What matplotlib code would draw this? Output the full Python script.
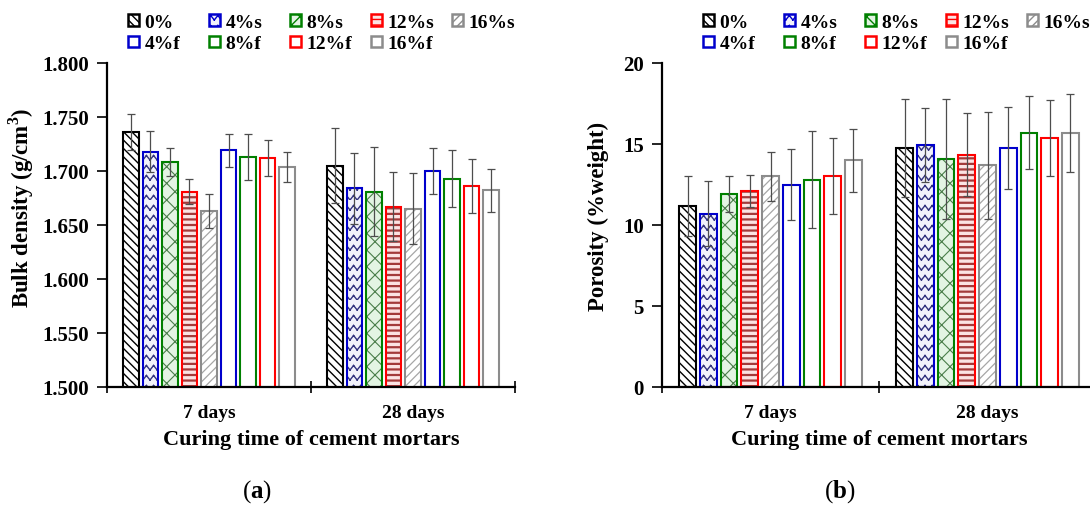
import warnings
import numpy as np
import matplotlib
matplotlib.use('Agg')
import matplotlib.pyplot as plt
from matplotlib import hatch as mhatch
from matplotlib.path import Path
from matplotlib.patches import Patch

warnings.filterwarnings('ignore')

# data
groups = ['7 days', '28 days']
series = ['0%', '4%s', '8%s', '12%s', '16%s', '4%f', '8%f', '12%f', '16%f']

density_7d = [1.736, 1.718, 1.708, 1.681, 1.663, 1.719, 1.713, 1.712, 1.704]
density_28d = [1.705, 1.684, 1.681, 1.667, 1.665, 1.700, 1.693, 1.686, 1.682]
density_err_7d = [0.017, 0.019, 0.013, 0.012, 0.016, 0.015, 0.021, 0.017, 0.014]
density_err_28d = [0.035, 0.033, 0.041, 0.032, 0.033, 0.021, 0.026, 0.025, 0.020]

porosity_7d = [11.2, 10.7, 11.9, 12.1, 13.0, 12.5, 12.8, 13.0, 14.0]
porosity_28d = [14.75, 14.95, 14.1, 14.35, 13.7, 14.75, 15.7, 15.35, 15.7]
porosity_err_7d = [1.85, 2.0, 1.1, 1.0, 1.5, 2.2, 3.0, 2.35, 1.95]
porosity_err_28d = [3.0, 2.3, 3.7, 2.55, 3.3, 2.55, 2.25, 2.35, 2.4]

# styles
outline = ['#000000', '#0000cc', '#008000', '#ff0000', '#8c8c8c',
           '#0000cc', '#008000', '#ff0000', '#8c8c8c']
fills = ['white', '#f2f2fb', '#e3f4e3', '#fbe3e3', 'white',
         'white', 'white', 'white', 'white']
hatch_col = ['#000000', '#33337f', '#4a7d4a', '#a33a3a', '#a6a6a6',
             None, None, None, None]
hatches = ['\\\\\\\\', 'z', 'xx', '---', '////', None, None, None, None]
hatch_lw = [1.0, 1.0, 0.8, 1.6, 0.9, 1.0, 1.0, 1.0, 1.0]


# wavy / zigzag hatch for the 4%s bars (not built in)
# every tooth edge is its own segment so that Agg has no area to fill
class ZigzagHatch(mhatch.HatchPatternBase):
    def __init__(self, hatch, density):
        self.num_rows = int(hatch.count('z') * density * 1.8)
        self.num_teeth = 14
        self.num_vertices = self.num_rows * self.num_teeth * 4

    def set_vertices_and_codes(self, vertices, codes):
        k = 2 * self.num_teeth
        xs = np.linspace(0, 1, k + 1)
        amp = 0.45 / self.num_rows
        idx = 0
        for r in range(self.num_rows):
            y0 = r / self.num_rows
            for j in range(k):
                vertices[idx] = (xs[j], y0 + amp * (j % 2))
                vertices[idx + 1] = (xs[j + 1], y0 + amp * ((j + 1) % 2))
                codes[idx] = Path.MOVETO
                codes[idx + 1] = Path.LINETO
                idx += 2

mhatch._hatch_types.append(ZigzagHatch)

plt.rcParams['font.family'] = 'Liberation Serif'
plt.rcParams['font.weight'] = 'bold'
plt.rcParams['axes.labelweight'] = 'bold'
plt.rcParams['mathtext.fontset'] = 'custom'
plt.rcParams['mathtext.rm'] = 'Liberation Serif'
plt.rcParams['mathtext.bf'] = 'Liberation Serif:bold'
plt.rcParams['hatch.linewidth'] = 1.0

step = 0.0956
width = 0.078

fig = plt.figure(figsize=(10.9, 5.1), dpi=100)
ax1 = fig.add_axes([107 / 1090, 1 - 388 / 510, 408 / 1090, 324 / 510])
ax2 = fig.add_axes([662 / 1090, 1 - 388 / 510, 434 / 1090, 324 / 510])


def draw_panel(ax, means, errs, ylim, yticks, fmt, ylabel, label_xy):
    x = np.arange(len(groups))
    means = np.array(means)
    errs = np.array(errs)
    for i in range(len(series)):
        pos = x + (i - 4) * step
        if hatches[i]:
            with plt.rc_context({'hatch.linewidth': hatch_lw[i]}):
                ax.bar(pos, means[:, i], width, color=fills[i],
                       edgecolor=hatch_col[i], hatch=hatches[i], linewidth=0)
        ax.bar(pos, means[:, i], width, fill=False, edgecolor=outline[i],
               linewidth=1.5)
        ax.errorbar(pos, means[:, i], yerr=errs[:, i], fmt='none',
                    ecolor='#4d4d4d', elinewidth=0.9, capsize=3, capthick=0.9)
    ax.set_xlim(-0.5, 1.5)
    ax.set_ylim(*ylim)
    ax.set_yticks(yticks)
    ax.set_yticklabels([fmt.format(v) for v in yticks], fontsize=15)
    ax.set_xticks(x)
    ax.set_xticklabels(groups, fontsize=14)
    ax.set_xticks([-0.5, 0.5, 1.5], minor=True)
    ax.tick_params(axis='x', which='major', length=0, pad=12)
    ax.tick_params(axis='x', which='minor', direction='inout', length=9,
                   width=1.2)
    ax.tick_params(axis='y', direction='out', length=7, width=1.2, pad=6)
    for s in ['top', 'right']:
        ax.spines[s].set_visible(False)
    for s in ['left', 'bottom']:
        ax.spines[s].set_linewidth(1.6)
    ax.set_xlabel('Curing time of cement mortars', fontsize=16, labelpad=6)
    ax.set_ylabel(ylabel, fontsize=16.5)
    ax.yaxis.set_label_coords(*label_xy)


draw_panel(ax1, [density_7d, density_28d], [density_err_7d, density_err_28d],
           (1.5, 1.8), np.arange(1.5, 1.801, 0.05), '{:.3f}',
           r'Bulk density (g/cm$^\mathbf{3}$)', (-0.175, 0.556))
draw_panel(ax2, [porosity_7d, porosity_28d], [porosity_err_7d, porosity_err_28d],
           (0, 20), [0, 5, 10, 15, 20], '{:.0f}', 'Porosity (%weight)',
           (-0.122, 0.528))

# legend: five columns, s-series on top row, f-series below
columns = [['0%', '4%f'], ['4%s', '8%f'], ['8%s', '12%f'], ['12%s', '16%f'],
           ['16%s']]
for x0 in [128, 703]:
    for c, names in enumerate(columns):
        handles = []
        for name in names:
            i = series.index(name)
            handles.append(Patch(facecolor=fills[i], edgecolor=outline[i],
                                 hatch=hatches[i], linewidth=1.8, label=name))
        fig.legend(handles=handles, loc='upper left',
                   bbox_to_anchor=((x0 + 81 * c) / 1090, 1 - 15 / 510),
                   frameon=False, fontsize=14, handlelength=0.55,
                   handleheight=0.55, handletextpad=0.3, labelspacing=0.22,
                   borderpad=0, borderaxespad=0)

fig.text(257 / 1090, 1 - 492 / 510, r'($\mathbf{a}$)', fontsize=18,
         fontweight='normal', ha='center', va='center')
fig.text(840 / 1090, 1 - 492 / 510, r'($\mathbf{b}$)', fontsize=18,
         fontweight='normal', ha='center', va='center')

fig.savefig('out.png', dpi=100)
